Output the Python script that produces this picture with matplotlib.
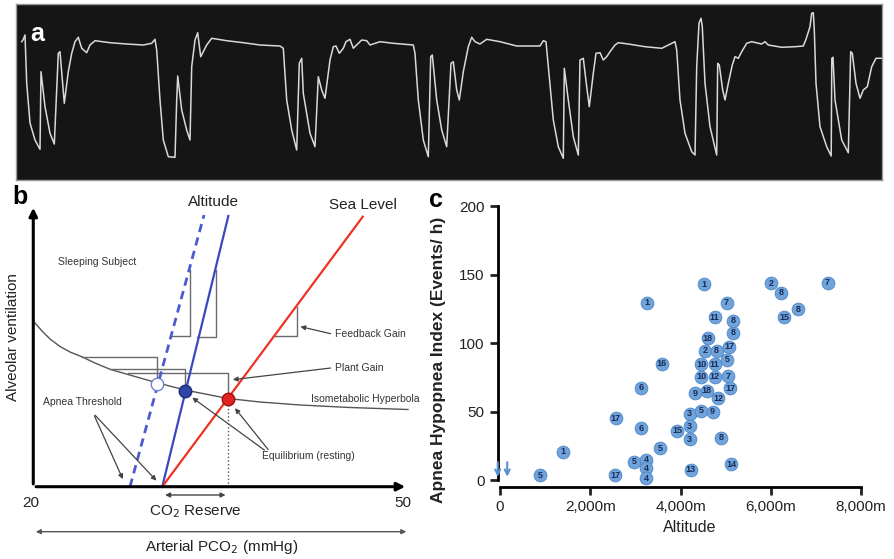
import matplotlib.pyplot as plt

plt.rcParams['font.family'] = ['Liberation Sans', 'DejaVu Sans']

W, H = 895, 559

# ---- panel a: trace (time in arbitrary units, signal level)
trace_t = [5.7, 7, 9, 10.7, 14, 19, 24, 25, 29, 34, 38.3, 42.3, 44, 46.7, 48.3, 52.3, 55.7, 59, 62.3,
           65.7, 70.7, 74, 79, 94, 110.7, 127.3, 135.7, 139, 140.7, 144, 147.3, 152.3, 159, 160.7,
           161.7, 165.7, 170.7, 174, 175.7, 179, 181.7, 184.7, 190.7, 195.7, 210.7, 227.3, 244, 264,
           267.3, 270.7, 275.7, 280.7, 283.3, 285.7, 287.3, 294, 299, 302.3, 305.7, 309, 314, 317.3,
           320, 323.3, 327.3, 330, 334, 337.3, 342.3, 345.7, 350.7, 354, 364, 377.3, 397.3, 399,
           402.3, 407.3, 412.3, 414.7, 416.3, 420.7, 425.7, 430.7, 435, 437.3, 440.7, 443.3, 447.3,
           452.3, 455.7, 459, 464, 470.7, 484, 500.7, 524, 527.3, 530, 532.3, 537.3, 542.3, 547.3,
           548.3, 552.3, 557.3, 562.3, 564, 567.3, 570.7, 573.3, 577.3, 580, 584, 587.3, 590.7, 594,
           599, 602.3, 612.3, 629, 645.7, 655.7, 659, 660.7, 664, 669, 675.7, 679, 680.7, 683, 685,
           686.3, 689, 694, 700.7, 701.7, 703.3, 706.7, 709, 712.3, 716.3, 719, 722.3, 725.7, 730.7,
           735.7, 745.7, 749, 752.3, 765.7, 779, 787.3, 790, 794, 795.7, 797.3, 798.3, 800, 804,
           810.7, 815.2, 815.8, 817, 819, 825.7, 832.3, 834.7, 836.3, 840, 844, 847.3, 851.3, 855.7,
           860, 865.7]
trace_v = [138.3, 140, 145, 97, 57, 40, 30.7, 108.3, 73.3, 46.7, 36, 126.7, 128.3, 96.7, 76.7, 108.3,
           126.7, 138.3, 142.7, 131.7, 127.3, 135, 139.3, 137.3, 136, 135, 136.7, 140.7, 130, 80, 40,
           23.3, 22.7, 80, 104, 70, 50, 40, 113.3, 140, 147.3, 123.3, 135, 141.7, 139.3, 137.3, 135,
           134, 131.7, 80, 50, 30, 116.7, 121.7, 86.7, 46.7, 33.3, 103.3, 90, 81.7, 120, 133.3, 134,
           126.7, 131.7, 138.3, 140.7, 131.7, 136.7, 140, 139.3, 135, 138.3, 136.7, 135, 126.7, 80,
           40, 23.3, 123.3, 125, 80, 50, 33.3, 116.7, 118.3, 90, 80, 108.3, 133.3, 142.7, 138.3, 136,
           140.7, 138.3, 134, 134, 139.3, 138.3, 113.3, 60, 33.3, 21.7, 111.7, 80, 43.3, 25, 120,
           121.7, 93.3, 73.3, 106.7, 126.7, 127.3, 120, 123.3, 128.3, 135, 137.3, 136, 133.3, 131.7,
           136.7, 138.3, 130, 80, 46.7, 28.3, 25, 113.3, 156.7, 161.7, 153.3, 96.7, 53.3, 25, 116.7,
           115, 90, 80, 96.7, 115, 123.3, 121.7, 128.3, 136.7, 138.3, 136, 138.3, 135, 132.7, 133.3,
           134, 140.7, 153.3, 166.7, 167.3, 150, 96.7, 53.3, 33.3, 24, 121.7, 122.7, 80, 40, 27.3,
           128.3, 126.7, 96.7, 81.7, 90, 93.3, 113.3, 121.7, 121.7]

# ---- panel b: schematic, x = arterial PCO2 (mmHg), y = ventilation (arbitrary units)
hyper_pco2 = [20.14, 20.71, 21.36, 22.17, 22.98, 23.93, 25.01, 26.23, 27.69, 29.72, 32.31, 35.8,
              38.4, 41.65, 45.7, 50.41]
hyper_vent = [16.37, 15.57, 14.77, 14.02, 13.47, 13.0, 12.37, 11.74, 11.22, 10.5, 9.67, 8.82,
              8.47, 8.17, 7.92, 7.72]
sea_pco2, sea_vent = [30.47, 46.74], [0, 27.0]
alt_pco2, alt_vent = [30.47, 35.83], [0, 27.07]
sleep_pco2, sleep_vent = [27.85, 33.86], [0, 27.17]
eq_pco2 = [30.06, 32.31, 35.83]
eq_vent = [10.24, 9.57, 8.74]
# feedback gain brackets
fb_left = [31.23, 33.31, 39.48]
fb_corner = [32.72, 34.83, 41.38]
fb_base = [15.07, 14.97, 15.07]
fb_top = [21.67, 21.67, 18.0]
# plant gain brackets
pg_start = [23.93, 26.23, 27.71]
pg_level = [13.0, 11.74, 11.34]
pg_end = [30.06, 32.31, 35.83]
pg_drop = [10.67, 10.0, 9.17]

# ---- panel c: AHI vs altitude
altitude_m = [890, 1400, 2550, 2570, 3250, 3580, 3120, 3120, 3550, 2970, 3240, 3240, 3240, 3930,
              4200, 4200, 4200, 4230, 4450, 4710, 4320, 4580, 4840, 5100, 4460, 4760, 5050, 4460,
              4760, 5040, 4540, 4800, 5080, 4600, 5160, 5160, 4760, 5020, 4530, 4900, 5120, 6000,
              6230, 7260, 6610, 6300]
ahi = [3.6, 20.7, 3.6, 45, 129.4, 85, 67.4, 37.7, 23.1, 13.4, 14.6, 8.5, 1.2, 36, 48.2, 39.4, 29.7,
       7.3, 50.4, 49.9, 63.3, 65.2, 59.6, 66.9, 75.4, 75.4, 75.9, 84.4, 84.4, 87.6, 94.2, 94.2, 97.3,
       103.4, 107.5, 116.3, 118.8, 129.4, 142.8, 30.9, 11.5, 143.6, 136.7, 144, 124.6, 118.8]
study = ['5', '1', '17', '17', '1', '16', '6', '6', '5', '5', '4', '4', '4', '15', '3', '3', '3', '13',
         '5', '9', '9', '18', '12', '17', '10', '12', '7', '10', '11', '5', '2', '8', '17', '18', '8',
         '8', '11', '7', '1', '8', '14', '2', '8', '7', '8', '15']
sea_level_x = [-50, 160]
xticks_c = [0, 2000, 4000, 6000, 8000]
xticklabels_c = ['0', '2,000m', '4,000m', '6,000m', '8,000m']
yticks_c = [0, 50, 100, 150, 200]

fig = plt.figure(figsize=(W / 100, H / 100), dpi=100)
fig.patch.set_facecolor('white')

# panel a
ax_a = fig.add_axes([16 / W, 1 - 180 / H, 866 / W, 176 / H])
ax_a.set_facecolor('#151515')
ax_a.plot(trace_t, trace_v, color='#d9d9d9', lw=1.1)
ax_a.set_xlim(0, 866)
ax_a.set_ylim(0, 176)
ax_a.set_xticks([])
ax_a.set_yticks([])
for s in ax_a.spines.values():
    s.set_color('#9a9a9a')
    s.set_linewidth(1)
ax_a.text(0.025, 0.83, 'a', transform=ax_a.transAxes, color='white', fontsize=18,
          fontweight='bold', ha='center', va='center')

# panel b
ax_b = fig.add_axes([0, 0, 450 / W, 369 / H])
ax_b.set_xlim(17.30, 53.82)
ax_b.set_ylim(-7.23, 29.67)
ax_b.axis('off')

gray = '#6a6a6a'
ax_b.plot(hyper_pco2, hyper_vent, color='#555555', lw=1)
for i in range(3):
    ax_b.plot([fb_left[i], fb_corner[i], fb_corner[i]], [fb_base[i], fb_base[i], fb_top[i]],
              color=gray, lw=1)
    ax_b.plot([pg_start[i], pg_end[i], pg_end[i]], [pg_level[i], pg_level[i], pg_drop[i]],
              color=gray, lw=1)
ax_b.plot([eq_pco2[2], eq_pco2[2]], [0, eq_vent[2]], color='#555555', lw=1, ls=':')
ax_b.plot(sleep_pco2, sleep_vent, color='#4a5bd0', lw=2, ls=(0, (3, 2)))
ax_b.plot(alt_pco2, alt_vent, color='#3a48c0', lw=1.6)
ax_b.plot(sea_pco2, sea_vent, color='#ee3324', lw=1.6)
ax_b.plot(eq_pco2[0], eq_vent[0], 'o', ms=9, mfc='white', mec='#7080d8', mew=1, ls='none')
ax_b.plot(eq_pco2[1], eq_vent[1], 'o', ms=9, mfc='#2e45a8', mec='#1c2c78', mew=1)
ax_b.plot(eq_pco2[2], eq_vent[2], 'o', ms=9, mfc='#e32222', mec='#9a1010', mew=1)

ax_b.annotate('', xy=(20, 28.17), xytext=(20, 0),
              arrowprops=dict(arrowstyle='-|>', color='black', lw=2.2, mutation_scale=12))
ax_b.annotate('', xy=(50.41, 0), xytext=(20, 0),
              arrowprops=dict(arrowstyle='-|>', color='black', lw=2.2, mutation_scale=12))
ax_b.annotate('', xy=(30.47, -0.83), xytext=(35.83, -0.83),
              arrowprops=dict(arrowstyle='<|-|>', color='#444444', lw=1, mutation_scale=7))
ax_b.annotate('', xy=(19.98, -4.5), xytext=(50.5, -4.5),
              arrowprops=dict(arrowstyle='<|-|>', color='#555555', lw=1, mutation_scale=7))

arr = dict(arrowstyle='-|>', color='#444444', lw=0.9, mutation_scale=7)
for tgt in [(27.36, 0.5), (30.15, 0.4)]:
    ax_b.annotate('', xy=tgt, xytext=(24.87, 7.34), arrowprops=arr)
ax_b.annotate('', xy=(41.46, 16.07), xytext=(44.35, 15.24), arrowprops=arr)
ax_b.annotate('', xy=(35.97, 10.67), xytext=(44.35, 11.9), arrowprops=arr)
ax_b.annotate('', xy=(32.72, 9.07), xytext=(38.94, 3.5), arrowprops=arr)
ax_b.annotate('', xy=(36.23, 8.07), xytext=(39.2, 3.5), arrowprops=arr)

small = dict(fontsize=7.5, color='#333333', va='center')
ax_b.text(25.15, 22.44, 'Sleeping Subject', ha='center', **small)
ax_b.text(24.01, 8.44, 'Apnea Threshold', ha='center', **small)
ax_b.text(44.45, 15.24, 'Feedback Gain', ha='left', **small)
ax_b.text(44.45, 11.9, 'Plant Gain', ha='left', **small)
ax_b.text(42.32, 3.1, 'Equilibrium (resting)', ha='center', **small)
ax_b.text(46.92, 8.74, 'Isometabolic Hyperbola', ha='center', **small)

big = dict(fontsize=11, color='#222222', ha='center', va='center')
ax_b.text(34.61, 28.5, 'Altitude', **big)
ax_b.text(46.79, 28.17, 'Sea Level', **big)
ax_b.text(19.8, -1.66, '20', **big)
ax_b.text(50.03, -1.66, '50', **big)
ax_b.text(33.12, -2.5, 'CO$_2$ Reserve', **big)
ax_b.text(35.29, -6.0, 'Arterial PCO$_2$ (mmHg)', **big)
ax_b.text(18.38, 15.0, 'Alveolar ventilation', rotation=90, **big)

# panel c
ax_c = fig.add_axes([500 / W, 79 / H, 380 / W, 280 / H])
ax_c.patch.set_alpha(0)
ax_c.set_xlim(0, 8421)
ax_c.set_ylim(0, 204.4)
ax_c.spines['top'].set_visible(False)
ax_c.spines['right'].set_visible(False)
ax_c.spines['left'].set_bounds(0, 200)
ax_c.spines['bottom'].set_bounds(0, 8000)
ax_c.spines['left'].set_position(('outward', 1.7))
ax_c.spines['bottom'].set_position(('outward', 5))
ax_c.spines['left'].set_linewidth(2)
ax_c.spines['bottom'].set_linewidth(2)
ax_c.tick_params(width=2, length=6, labelsize=11, colors='#222222')
ax_c.set_xticks(xticks_c)
ax_c.set_xticklabels(xticklabels_c)
ax_c.set_yticks(yticks_c)
ax_c.set_xlabel('Altitude', fontsize=11.5, color='#222222', labelpad=4)
ax_c.set_ylabel('Apnea Hypopnea Index (Events/ h)', fontsize=12.5, fontweight='bold',
                color='#222222')
ax_c.yaxis.set_label_coords(-0.142, 0.43)

for i, (x, y, lab) in enumerate(zip(altitude_m, ahi, study)):
    ax_c.scatter(x, y, s=85, color='#6fa3dc', edgecolor='#4f86c6', linewidth=0.6,
                 zorder=3 + 2 * i, clip_on=False)
    ax_c.text(x, y, lab, fontsize=6.5, fontweight='bold', color='#1b2b55', ha='center',
              va='center', zorder=4 + 2 * i, clip_on=False)
for x in sea_level_x:
    ax_c.annotate('', xy=(x, 0.3), xytext=(x, 15),
                  arrowprops=dict(arrowstyle='->', color='#5b8fd0', lw=1.5, mutation_scale=9),
                  annotation_clip=False)

fig.text(20 / W, 1 - 197 / H, 'b', fontsize=18, fontweight='bold', ha='center', va='center')
fig.text(436 / W, 1 - 200 / H, 'c', fontsize=18, fontweight='bold', ha='center', va='center')

fig.savefig('out.png', dpi=100)
